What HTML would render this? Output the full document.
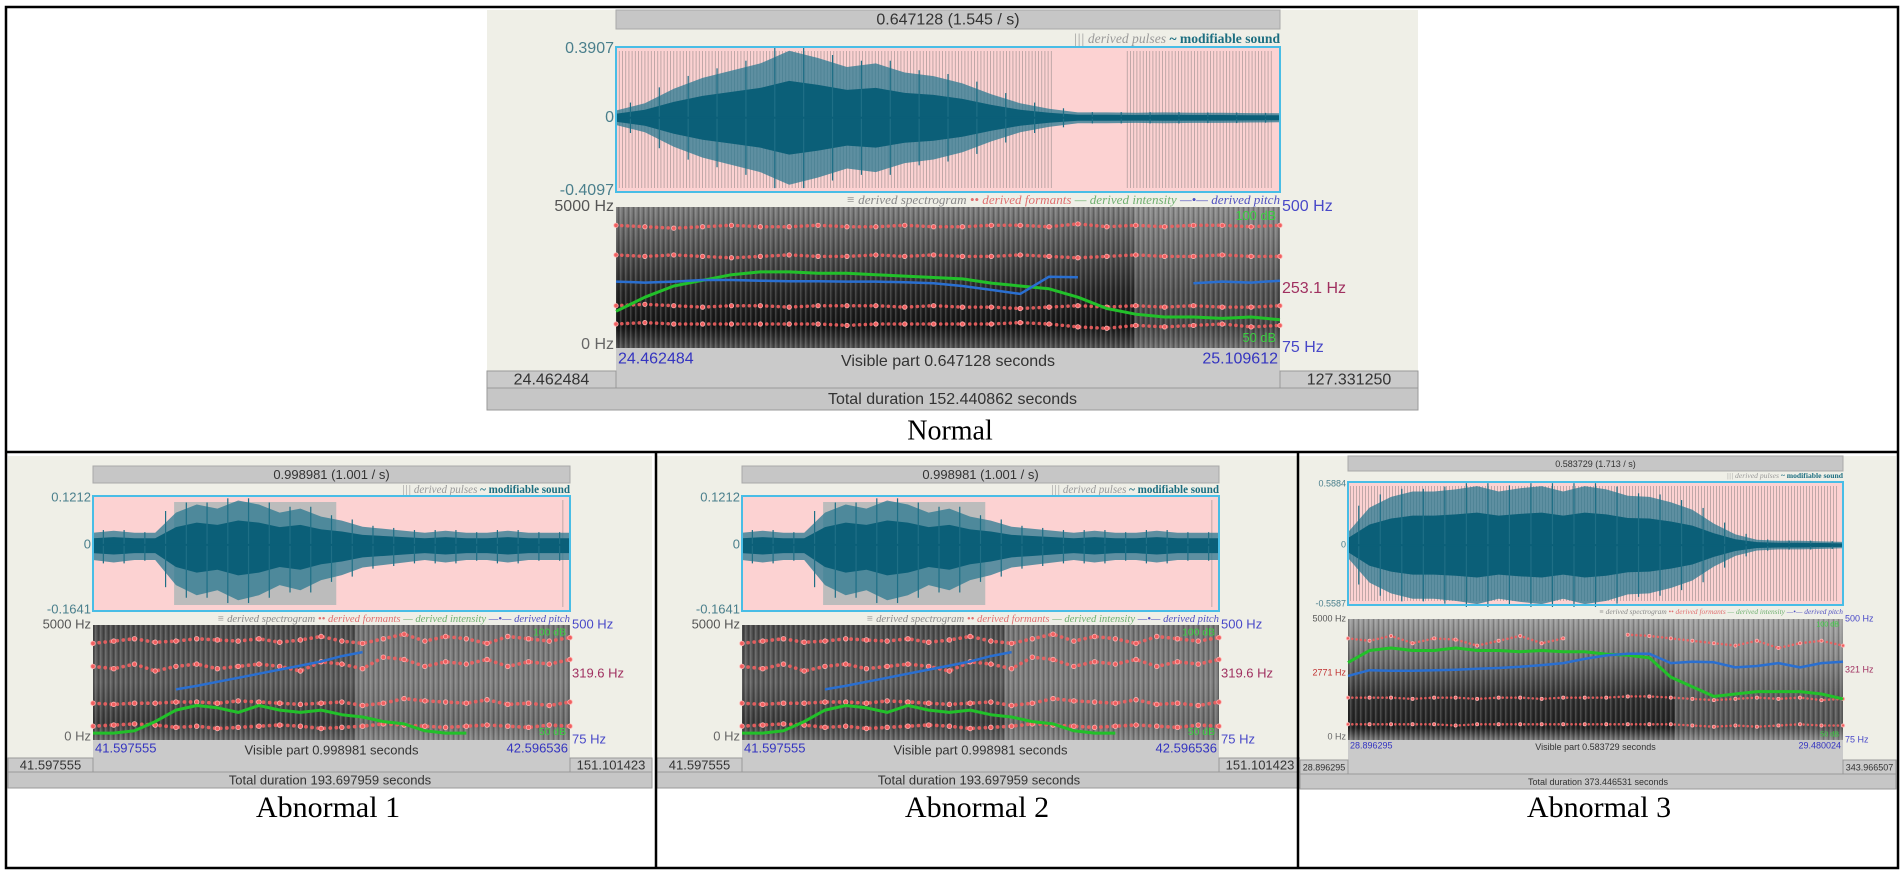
<!DOCTYPE html>
<html><head><meta charset="utf-8"><title>Praat analysis: Normal vs Abnormal</title>
<style>
html,body{margin:0;padding:0;background:#fff;}
svg{display:block;}
</style></head>
<body>
<svg id="chart" xmlns="http://www.w3.org/2000/svg" width="1902" height="875" viewBox="0 0 1902 875">
<defs>
<pattern id="streaks" width="5" height="6" patternUnits="userSpaceOnUse">
<rect x="0" y="0" width="1.5" height="6" fill="#ffffff" opacity="0.16"/>
<rect x="3" y="0" width="1" height="6" fill="#000000" opacity="0.18"/>
</pattern>
<linearGradient id="gNormal" x1="0" y1="0" x2="0" y2="1">
<stop offset="0" stop-color="#7a7a7a"/><stop offset="0.3" stop-color="#505050"/><stop offset="0.6" stop-color="#262626"/><stop offset="0.85" stop-color="#141414"/><stop offset="1" stop-color="#505050"/>
</linearGradient>
<linearGradient id="gAb" x1="0" y1="0" x2="0" y2="1">
<stop offset="0" stop-color="#4a4a4a"/><stop offset="0.5" stop-color="#5a5a5a"/><stop offset="0.85" stop-color="#3a3a3a"/><stop offset="1" stop-color="#666"/>
</linearGradient>
<linearGradient id="gAb3" x1="0" y1="0" x2="0" y2="1">
<stop offset="0" stop-color="#9a9a9a"/><stop offset="0.35" stop-color="#6a6a6a"/><stop offset="0.65" stop-color="#2e2e2e"/><stop offset="0.9" stop-color="#222"/><stop offset="1" stop-color="#777"/>
</linearGradient>
</defs>
<rect x="0" y="0" width="1902" height="875" fill="#fff"/>
</svg>
<script>
// ---------- data (time index = evenly spaced frames across visible part) ----------
const normalEnv   = [0.04,0.08,0.16,0.22,0.26,0.3,0.37,0.33,0.28,0.3,0.25,0.23,0.19,0.13,0.08,0.05,0.03,0.03,0.028,0.03,0.028,0.028,0.026,0.025];
const normalF4    = [4350,4300,4250,4300,4350,4300,4300,4350,4300,4300,4350,4300,4300,4350,4350,4300,4400,4300,4350,4300,4350,4350,4300,4350];
const normalF3    = [3300,3250,3300,3250,3200,3250,3300,3250,3250,3300,3250,3300,3250,3250,3300,3250,3200,3250,3300,3250,3250,3300,3250,3250];
const normalF2    = [1500,1550,1500,1450,1500,1500,1450,1500,1500,1500,1450,1500,1450,1450,1400,1450,1500,1450,1500,1450,1500,1450,1450,1500];
const normalF1    = [850,900,850,850,850,850,850,850,800,850,850,850,850,850,900,850,750,700,800,750,800,850,750,800];
const normalPitch = [275,272,275,280,280,278,276,276,275,275,273,270,262,250,238,290,288,null,null,null,270,275,272,278];
const normalInt   = [63,68,72,74,76,77,77,76.5,76.5,76,75.5,75,74.5,73,72,71,68,64,62,61,61,60.5,61,60];

const ab1Env   = [0.03,0.035,0.03,0.03,0.08,0.1,0.09,0.11,0.1,0.08,0.09,0.07,0.06,0.045,0.04,0.035,0.03,0.035,0.03,0.03,0.035,0.03,0.03,0.03];
const ab1F4    = [4200,4300,4400,4250,4300,4400,4350,4300,4400,4250,4350,4500,4300,4200,4400,4600,4300,4500,4400,4200,4500,4400,4300,4450];
const ab1F3    = [3200,3100,3300,3000,3200,3300,3100,3200,3300,3200,3000,3400,3300,3100,3600,3500,3200,3400,3300,3500,3200,3400,3300,3500];
const ab1F2    = [1600,1550,1600,1600,1650,1650,1600,1700,1650,1600,1550,1600,1650,1500,1600,1800,1700,1650,1600,1750,1550,1600,1500,1650];
const ab1F1    = [600,650,700,650,550,600,500,550,600,650,600,500,550,600,700,650,600,550,600,650,600,550,650,600];
const ab1Pitch = [null,null,null,null,262,275,290,305,320,335,350,365,385,400,null,null,null,null,null,null,null,null,null,null];
const ab1Int   = [53,53,54,58,63,65,64,62,65,63,62,63,61,60,58,57,54,53,53,null,null,null,null,null];

const ab3Env   = [0.12,0.35,0.45,0.5,0.5,0.52,0.55,0.5,0.53,0.55,0.5,0.55,0.52,0.46,0.45,0.4,0.33,0.2,0.1,0.05,0.04,0.04,0.035,0.03];
const ab3F3    = [4200,4100,4300,4000,4200,4150,3900,4100,4300,4000,4200,null,null,4350,4300,4200,4100,4000,3900,4100,3800,4000,4100,3900];
const ab3F2    = [1750,1750,1750,1700,1750,1750,1700,1750,1750,1700,1750,1750,1750,1800,1800,1750,1700,1650,1700,1750,1700,1750,1650,1700];
const ab3F1    = [650,650,650,650,650,600,650,650,650,650,650,650,650,650,650,650,600,550,600,550,600,650,600,600];
const ab3Pitch = [300,320,318,318,320,322,325,328,332,338,345,360,372,378,378,345,350,348,330,335,345,330,345,350];
const ab3Int   = [82,87,88,87,87,88,87,87,86.5,87,86.5,86.5,85.5,85,84,76,72,68,69,70,70,70,69,67];

const NS = 'http://www.w3.org/2000/svg';
const svg = document.getElementById('chart');
function mk(tag, attrs, parent){
  const e = document.createElementNS(NS, tag);
  for (const k in attrs) e.setAttribute(k, attrs[k]);
  (parent || svg).appendChild(e);
  return e;
}
function txt(x, y, s, size, fill, anchor, extra){
  const t = mk('text', Object.assign({x:x, y:y, 'font-size':size, fill:fill, 'text-anchor':anchor||'start', 'font-family':'Liberation Sans, sans-serif', 'dominant-baseline':'middle'}, extra||{}));
  t.textContent = s;
  return t;
}

function drawPanel(p, D){
  const g = mk('g', {});
  
  
  const fs = p.fs;
  const bg = mk('rect', {x:p.wx0, y:p.wy0, width:p.wx1-p.wx0, height:p.wy1-p.wy0, fill:'#efefe7'}, g);
  
  
  const W = p.px1 - p.px0;
  const tb = mk('rect', {x:p.px0, y:p.tY0, width:W, height:p.tY1-p.tY0, fill:'#c6c6c6', stroke:'#a8a8a8'}, g);
  
  
  const tt = txt((p.px0+p.px1)/2, (p.tY0+p.tY1)/2+1, p.title, fs, '#333', 'middle', {});
  g.appendChild(tt);
  
  
  const lg = txt(p.px1, p.legY, '', fs*0.85, '#999', 'end', {'font-family':'Liberation Serif, serif','font-style':'italic'});
  g.appendChild(lg);
  
  
  const s1 = mk('tspan', {}, lg); s1.textContent = '||| derived pulses   ';
  const s2 = mk('tspan', {fill:'#1c6e80','font-weight':'bold','font-style':'normal'}, lg); s2.textContent = '~ modifiable sound';
  const wb = mk('rect', {x:p.px0, y:p.wTop, width:W, height:p.wBot-p.wTop, fill:'#fcd2d2'}, g);
  
  
  p.pulses.forEach(function(iv){
    for (let x = p.px0 + iv[0]*W; x <= p.px0 + iv[1]*W; x += p.pulseStep){
      const l = mk('line', {x1:x, x2:x, y1:p.wTop+4, y2:p.wBot-4, stroke:'#b9a3a3', 'stroke-width':0.9}, g);
      
      
    }
  });
  if (p.sel){
    const sr = mk('rect', {x:p.px0+p.sel[0]*W, y:p.wTop+6, width:(p.sel[1]-p.sel[0])*W, height:p.wBot-p.wTop-12, fill:'#bcbcbc'}, g);
    
    
  }
  const ampY = v => p.wTop + (p.ampMax - v)/(p.ampMax - p.ampMin)*(p.wBot - p.wTop);
  const n = D.env.length;
  const tx = i => p.px0 + i/(n-1)*W;
  function envPoly(scale, lowScale){
    const top = D.env.map((v,i)=> tx(i)+','+ampY(v*scale));
    const bot = D.env.map((v,i)=> tx(i)+','+ampY(-v*lowScale)).reverse();
    return top.concat(bot).join(' ');
  }
  const wo = mk('polygon', {points:envPoly(1, p.lowRatio), fill:'#2a7890', opacity:0.75}, g);
  
  
  const wi = mk('polygon', {points:envPoly(0.55, 0.55*p.lowRatio), fill:'#0b5f78'}, g);
  
  
  D.env.forEach(function(v,i){
    if (i === n-1) return;
    const xm = (tx(i)+tx(i+1))/2;
    const sp = mk('line', {x1:xm, x2:xm, y1:ampY(Math.max(v,D.env[i+1])*1.05), y2:ampY(-Math.max(v,D.env[i+1])*1.05*p.lowRatio), stroke:'#1f6f86', 'stroke-width':1.2}, g);
    
    
  });
  const zl = mk('line', {x1:p.px0, x2:p.px1, y1:ampY(0), y2:ampY(0), stroke:'#0b5f78', 'stroke-width':2}, g);
  
  
  const wbb = mk('rect', {x:p.px0, y:p.wTop, width:W, height:p.wBot-p.wTop, fill:'none', stroke:'#48bde6', 'stroke-width':2}, g);
  
  
  const a1 = txt(p.px0-2, p.wTop+2, p.ampMaxLbl, fs, '#4a7f8c', 'end'); g.appendChild(a1);
   
  const a0 = txt(p.px0-2, ampY(0), '0', fs, '#4a7f8c', 'end'); g.appendChild(a0);
   
  const a2 = txt(p.px0-2, p.wBot-1, p.ampMinLbl, fs, '#4a7f8c', 'end'); g.appendChild(a2);
   

  const sl = txt(p.px1, p.sLegY, '', fs*0.82, '#888', 'end', {'font-family':'Liberation Serif, serif','font-style':'italic'});
  g.appendChild(sl);
  
  
  [['≡ derived spectrogram   ','#888'],['•• derived formants   ','#e07070'],['— derived intensity   ','#70b070'],['—•— derived pitch','#5050c0']].forEach(function(a){
    const ts = mk('tspan', {fill:a[1]}, sl); ts.textContent = a[0];
  });
  const H = p.sBot - p.sTop;
  const sp1 = mk('rect', {x:p.px0, y:p.sTop, width:W, height:H, fill:'url(#'+p.grad+')'}, g);
  
  
  if (p.light){
    const lr = mk('rect', {x:p.px0+p.light[0]*W, y:p.sTop, width:(p.light[1]-p.light[0])*W, height:H, fill:'#b0b0b0', opacity:p.light[2]}, g);
    
    
  }
  const st = mk('rect', {x:p.px0, y:p.sTop, width:W, height:H, fill:'url(#streaks)'}, g);
  
  
  const hzY = v => p.sBot - v/5000*H;
  const pitchY = v => p.sBot - (v-75)/(500-75)*H;
  const dbY = v => p.sBot - (v-50)/50*H;
  D.formants.forEach(function(arr, k){
    const m = arr.length;
    // dotted track between frames
    let seg = []; const segs = [];
    arr.forEach(function(v,i){
      if (v === null){ if (seg.length) segs.push(seg); seg = []; return; }
      seg.push((p.px0 + i/(m-1)*W).toFixed(1)+','+hzY(v).toFixed(1));
    });
    if (seg.length) segs.push(seg);
    segs.forEach(function(s){
      const tr = mk('polyline', {points:s.join(' '), fill:'none', stroke:'#f06060', 'stroke-width':p.dotR*1.6, 'stroke-dasharray':'0.1 '+(p.dotR*2.6).toFixed(1), 'stroke-linecap':'round', opacity:0.9}, g);
      
      
    });
    arr.forEach(function(v,i){
      if (v === null) return;
      const c = mk('circle', {cx:p.px0 + i/(m-1)*W, cy:hzY(v), r:p.dotR, fill:'#f06060', stroke:'#ffb0b0', 'stroke-width':0.8}, g);
      
      
    });
  });
  function line(arr, yf, color, name, w){
    const m = arr.length; let seg = [];
    const segs = [];
    arr.forEach(function(v,i){
      if (v === null){ if (seg.length) segs.push(seg); seg = []; return; }
      seg.push((p.px0 + i/(m-1)*W).toFixed(1)+','+yf(v).toFixed(1));
    });
    if (seg.length) segs.push(seg);
    segs.forEach(function(s){
      const pl = mk('polyline', {points:s.join(' '), fill:'none', stroke:color, 'stroke-width':w, 'stroke-linejoin':'round'}, g);
      
      
    });
  }
  line(D.intensity, dbY, '#22c02a', 'intensity-curve', p.lw+0.5);
  line(D.pitch, pitchY, '#2a6fd0', 'pitch-curve', p.lw);
  const l5 = txt(p.px0-2, p.sTop, '5000 Hz', fs, '#555', 'end'); g.appendChild(l5);
   
  const l0 = txt(p.px0-2, p.sBot-3, '0 Hz', fs, '#666', 'end'); g.appendChild(l0);
   
  if (p.midHz){
    const lm = txt(p.px0-2, hzY(p.midHz[0]), p.midHz[1], fs, '#c03030', 'end'); g.appendChild(lm);
     
  }
  const r5 = txt(p.px1+2, p.sTop, '500 Hz', fs, '#4848c8', 'start'); g.appendChild(r5);
   
  const rm = txt(p.px1+2, pitchY(p.midPitch[0]), p.midPitch[1], fs, '#a03060', 'start'); g.appendChild(rm);
   
  const r7 = txt(p.px1+2, p.sBot, '75 Hz', fs, '#4848c8', 'start'); g.appendChild(r7);
   
  const d1 = txt(p.px1-4, p.sTop+fs*0.6, '100 dB', fs*0.8, '#3ad040', 'end'); g.appendChild(d1);
   
  const d2 = txt(p.px1-4, p.sBot-fs*0.6, '50 dB', fs*0.8, '#3ad040', 'end'); g.appendChild(d2);
   

  const r1 = mk('rect', {x:p.px0, y:p.sBot, width:W, height:p.r2-p.sBot, fill:'#cacaca'}, g);
   
  const lb = mk('rect', {x:p.wx0, y:p.rb, width:p.px0-p.wx0, height:p.r2-p.rb, fill:'#cacaca', stroke:'#999'}, g);
   
  const rb = mk('rect', {x:p.px1, y:p.rb, width:p.wx1-p.px1, height:p.r2-p.rb, fill:'#cacaca', stroke:'#999'}, g);
   
  const tr = mk('rect', {x:p.wx0, y:p.r2, width:p.wx1-p.wx0, height:p.wy1-p.r2, fill:'#c6c6c6', stroke:'#999'}, g);
   
  const v1 = txt(p.px0+2, p.sBot+fs*0.7, p.vL, fs, '#3434c0', 'start'); g.appendChild(v1);
   
  const v2 = txt(p.px1-2, p.sBot+fs*0.7, p.vR, fs, '#3434c0', 'end'); g.appendChild(v2);
   
  const vm = txt((p.px0+p.px1)/2, p.sBot+fs*0.85, p.vMid, fs, '#333', 'middle'); g.appendChild(vm);
   
  const b1 = txt((p.wx0+p.px0)/2, (p.rb+p.r2)/2+1, p.bL, fs, '#333', 'middle'); g.appendChild(b1);
   
  const b2 = txt((p.px1+p.wx1)/2, (p.rb+p.r2)/2+1, p.bR, fs, '#333', 'middle'); g.appendChild(b2);
   
  const tt2 = txt((p.wx0+p.wx1)/2, (p.r2+p.wy1)/2+1, p.total, fs, '#333', 'middle'); g.appendChild(tt2);
   
  const cap = txt(p.capX, p.capY, p.caption, p.capFs, '#000', 'middle', {'font-family':'Liberation Serif, serif'});
  
  
}

drawPanel({name:'normal-panel', wx0:487, wx1:1418, wy0:10, wy1:410, px0:616, px1:1280, tY0:10, tY1:29, legY:40,
  wTop:47, wBot:192, ampMax:0.3907, ampMin:-0.4097, ampMaxLbl:'0.3907', ampMinLbl:'-0.4097', lowRatio:1.0,
  pulses:[[0.005,0.66],[0.77,0.99]], pulseStep:3.2, sel:null, sLegY:201, sTop:207, sBot:348, grad:'gNormal',
  light:[0.78,1,0.3], dotR:2.2, lw:2.5, fs:16, midPitch:[253.1,'253.1 Hz'], midHz:null,
  r2:388, rb:371, vL:'24.462484', vR:'25.109612', vMid:'Visible part 0.647128 seconds', bL:'24.462484', bR:'127.331250',
  total:'Total duration 152.440862 seconds', title:'0.647128 (1.545 / s)', caption:'Normal', capX:950, capY:433, capFs:28},
  {env:normalEnv, formants:[normalF4,normalF3,normalF2,normalF1], pitch:normalPitch, intensity:normalInt});

[0, 649].forEach(function(dx, k){
  drawPanel({name:'abnormal-'+(k+1)+'-panel', wx0:8+dx, wx1:652+dx, wy0:456, wy1:788, px0:93+dx, px1:570+dx, tY0:466, tY1:483, legY:490,
    wTop:496, wBot:611, ampMax:0.1212, ampMin:-0.1641, ampMaxLbl:'0.1212', ampMinLbl:'-0.1641', lowRatio:1.25,
    pulses:[[0.985,0.99]], pulseStep:4, sel:[0.17,0.51], sLegY:620, sTop:625, sBot:740, grad:'gAb',
    light:[0.55,1,0.4], dotR:2.3, lw:2.5, fs:13, midPitch:[319.6,'319.6 Hz'], midHz:null,
    r2:772, rb:758, vL:'41.597555', vR:'42.596536', vMid:'Visible part 0.998981 seconds', bL:'41.597555', bR:'151.101423',
    total:'Total duration 193.697959 seconds', title:'0.998981 (1.001 / s)', caption:'Abnormal '+(k+1), capX:328+dx, capY:810, capFs:30},
    {env:ab1Env, formants:[ab1F4,ab1F3,ab1F2,ab1F1], pitch:ab1Pitch, intensity:ab1Int});
});

drawPanel({name:'abnormal-3-panel', wx0:1300, wx1:1896, wy0:456, wy1:789, px0:1348, px1:1843, tY0:456, tY1:471, legY:476,
  wTop:482, wBot:605, ampMax:0.5884, ampMin:-0.5587, ampMaxLbl:'0.5884', ampMinLbl:'-0.5587', lowRatio:1.0,
  pulses:[[0.005,0.99]], pulseStep:3, sel:null, sLegY:612, sTop:619, sBot:740, grad:'gAb3',
  light:[0.66,1,0.35], dotR:1.6, lw:2.5, fs:9, midPitch:[321,'321 Hz'], midHz:[2771,'2771 Hz'],
  r2:774, rb:760, vL:'28.896295', vR:'29.480024', vMid:'Visible part 0.583729 seconds', bL:'28.896295', bR:'343.966507',
  total:'Total duration 373.446531 seconds', title:'0.583729 (1.713 / s)', caption:'Abnormal 3', capX:1599, capY:810, capFs:30},
  {env:ab3Env, formants:[ab3F3,ab3F2,ab3F1], pitch:ab3Pitch, intensity:ab3Int});

const bcol = '#000';
const outer = mk('rect', {x:6, y:7, width:1892, height:861, fill:'none', stroke:bcol, 'stroke-width':2.5});


const hdiv = mk('line', {x1:6, x2:1898, y1:452, y2:452, stroke:bcol, 'stroke-width':2.5});


[656, 1298].forEach(function(x){
  const v = mk('line', {x1:x, x2:x, y1:452, y2:868, stroke:bcol, 'stroke-width':2.5});
  
  
});
</script>
</body></html>
